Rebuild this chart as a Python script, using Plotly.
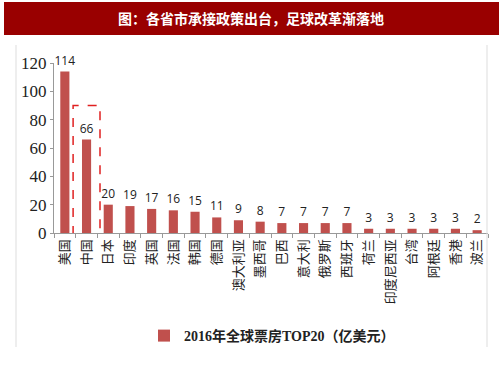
import plotly.graph_objects as go

countries = ["美国", "中国", "日本", "印度", "英国", "法国", "韩国", "德国", "澳大利亚", "墨西哥",
             "巴西", "意大利", "俄罗斯", "西班牙", "荷兰", "印度尼西亚", "台湾", "阿根廷", "香港", "波兰"]
box_office = [114, 66, 20, 19, 17, 16, 15, 11, 9, 8, 7, 7, 7, 7, 3, 3, 3, 3, 3, 2]
series_name = "<b>2016年全球票房TOP20（亿美元）</b>"
title_text = "图：各省市承接政策出台，足球改革渐落地"
y_ticks = [0, 20, 40, 60, 80, 100, 120]

bar_color = "#C0504D"

fig = go.Figure()
fig.add_trace(go.Bar(
    x=countries, y=box_office, name=series_name,
    marker=dict(color=bar_color, line=dict(width=0)),
    width=0.42,
    text=[str(v) for v in box_office], textposition="outside", constraintext="none",
    textfont=dict(family="Open Sans, Arial, sans-serif", size=12, color="#222"),
    cliponaxis=False,
))

fig.update_layout(
    width=503, height=378,
    margin=dict(l=54, r=15, t=63, b=145, autoexpand=False),
    paper_bgcolor="white", plot_bgcolor="white",
    showlegend=True,
    legend=dict(orientation="h", x=(272 - 54) / 434, xanchor="center", y=-103/170, yanchor="middle",
                font=dict(family="Liberation Serif, Noto Sans CJK SC", size=14, color="#222"),
                itemwidth=30),
    xaxis=dict(type="category", tickangle=-90, showline=True, linecolor="#999", linewidth=1,
               ticks="outside", ticklen=4, tickcolor="#999", tickson="boundaries", automargin=False,
               tickfont=dict(family="Noto Sans CJK SC", size=13, color="#222"),
               showgrid=False),
    yaxis=dict(range=[0, 120], tickvals=y_ticks, showline=True, linecolor="#999", linewidth=1,
               ticks="outside", ticklen=3, tickcolor="#999", showgrid=False, zeroline=False,
               automargin=False,
               tickfont=dict(family="Liberation Serif, Times New Roman, serif", size=17, color="#222")),
    shapes=[
        dict(type="rect", xref="paper", yref="paper", x0=-50/434, x1=445/434, y0=1 + 28/170, y1=1 + 61/170,
             fillcolor="#990000", line=dict(width=0), layer="below"),
        dict(type="line", xref="paper", yref="paper", x0=-38/434, x1=-38/434, y0=1 + 18/170, y1=-114/170,
             line=dict(color="#ddd", width=1)),
        dict(type="line", xref="paper", yref="paper", x0=433/434, x1=433/434, y0=1 + 18/170, y1=-114/170,
             line=dict(color="#ddd", width=1)),
        dict(type="rect", xref="x", yref="y", x0=0.38, x1=1.62, y0=-3, y1=box_office[1] + 24,
             line=dict(color="#E02020", width=1.5, dash="dash"), fillcolor="rgba(0,0,0,0)"),
    ],
    annotations=[
        dict(text="<b>" + title_text + "</b>", xref="paper", yref="paper", x=(251 - 54) / 434, y=1 + 45/170,
             showarrow=False, font=dict(family="Noto Sans CJK SC", size=14, color="white"),
             xanchor="center", yanchor="middle"),
    ],
)

fig.write_html("out.html", config={"displayModeBar": False},
               post_script="document.body.style.margin='0';")
